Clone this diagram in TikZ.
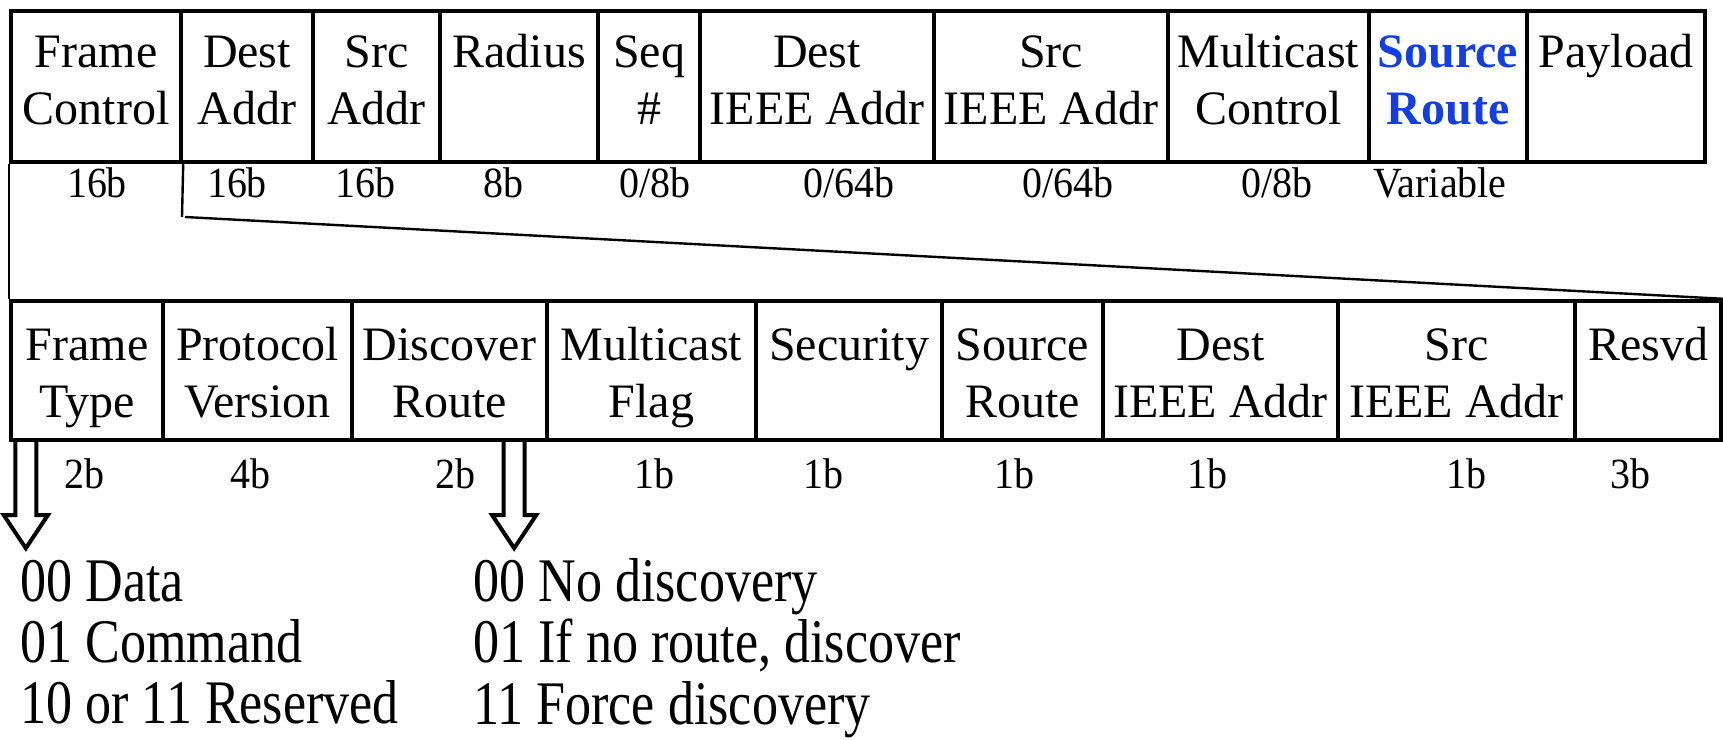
\documentclass[tikz,border=0pt]{standalone}
\usepackage{fontspec}
\setmainfont{Liberation Serif}
\newfontfamily\bitsfont[FakeStretch=0.93]{Liberation Serif}
\newfontfamily\notefont[FakeStretch=0.84]{Liberation Serif}
\usetikzlibrary{fit}
\definecolor{routeblue}{RGB}{18,62,228}

% centred / left-aligned multi-line cell contents, baseline on the first line
\newcommand\fieldstack[1]{\begin{tabular}[t]{@{}c@{}}#1\end{tabular}}
\newcommand\notestack[1]{\begin{tabular}[t]{@{}l@{}}#1\end{tabular}}

\tikzset{
  fieldbox/.style={draw, line width=2.2pt, inner sep=0pt},
  fieldtext/.style={inner sep=0pt, anchor=base, font=\fontsize{24}{28.5}\selectfont},
  bits/.style={inner sep=0pt, anchor=base, font=\bitsfont\fontsize{21.5}{24}\selectfont},
  note/.style={inner sep=0pt, anchor=base west, font=\notefont\fontsize{31}{30.5}\selectfont},
  link/.style={line width=1.2pt},
  hollow/.style={draw, line width=2pt, fill=white, line join=miter},
}

% one header field: name, left, right, top, bottom, text, first-baseline drop
\newcommand\rowfield[7]{%
  \node[fieldbox, fit={(#2,#4) (#3,#5)}] (#1) {};
  \node[fieldtext, yshift=-#7] (#1-t) at (#1.north) {\fieldstack{#6}};
}

% hollow down arrow hanging from a coordinate
\newcommand\hollowarrow[1]{%
  \draw[hollow] ([xshift=-5.25pt]#1) -- ++(0,73) -- ++(-11.5,0) -- ++(22,33)
    -- ++(22,-33) -- ++(-11.5,0) -- ++(0,-73);
}

\begin{document}
\begin{tikzpicture}[x=0.5pt,y=-0.5pt]
\useasboundingbox (0,0) rectangle (1723,739);

% NWK frame header
\rowfield{fc}{11}{181}{11}{162}{Frame\\Control}{29.5pt}
\rowfield{da}{181}{313}{11}{162}{Dest\\Addr}{29.5pt}
\rowfield{sa}{313}{440}{11}{162}{Src\\Addr}{29.5pt}
\rowfield{rad}{440}{598}{11}{162}{Radius}{29.5pt}
\rowfield{seq}{598}{700}{11}{162}{Seq\\\#}{29.5pt}
\rowfield{dieee}{700}{934}{11}{162}{Dest\\IEEE Addr}{29.5pt}
\rowfield{sieee}{934}{1168}{11}{162}{Src\\IEEE Addr}{29.5pt}
\rowfield{mc}{1168}{1369}{11}{162}{Multicast\\Control}{29.5pt}
\rowfield{sr}{1369}{1527}{11}{162}{\color{routeblue}\bfseries Source\\\color{routeblue}\bfseries Route}{29.5pt}
\rowfield{pl}{1527}{1705}{11}{162}{Payload}{29.5pt}

% field sizes
\node[bits] (fc-b) at (97,197) {16b};
\node[bits] (da-b) at (237,197) {16b};
\node[bits] (sa-b) at (365,197) {16b};
\node[bits] (rad-b) at (503,197) {8b};
\node[bits] (seq-b) at (655,197) {0/8b};
\node[bits] (dieee-b) at (849,197) {0/64b};
\node[bits] (sieee-b) at (1068,197) {0/64b};
\node[bits] (mc-b) at (1277,197) {0/8b};
\node[bits] (sr-b) at (1440,197) {Variable};

% frame control sub-fields
\rowfield{ft}{11}{163}{301}{440}{Frame\\Type}{31pt}
\rowfield{pv}{163}{352}{301}{440}{Protocol\\Version}{31pt}
\rowfield{dr}{352}{547}{301}{440}{Discover\\Route}{31pt}
\rowfield{mf}{547}{756}{301}{440}{Multicast\\Flag}{31pt}
\rowfield{sec}{756}{942}{301}{440}{Security}{31pt}
\rowfield{srt}{942}{1103}{301}{440}{Source\\Route}{31pt}
\rowfield{dia}{1103}{1338}{301}{440}{Dest\\IEEE Addr}{31pt}
\rowfield{sia}{1338}{1575}{301}{440}{Src\\IEEE Addr}{31pt}
\rowfield{res}{1575}{1721}{301}{440}{Resvd}{31pt}

\node[bits] (ft-b) at (84,488) {2b};
\node[bits] (pv-b) at (250,488) {4b};
\node[bits] (dr-b) at (455,488) {2b};
\node[bits] (mf-b) at (654,488) {1b};
\node[bits] (sec-b) at (823,488) {1b};
\node[bits] (srt-b) at (1014,488) {1b};
\node[bits] (dia-b) at (1207,488) {1b};
\node[bits] (sia-b) at (1466,488) {1b};
\node[bits] (res-b) at (1630,488) {3b};

% expansion lines from the frame control field
\coordinate (fcdrop) at (182,217);
\coordinate (fcslant) at (185,217);
\draw[link] (fc.south west) -- (ft.north west);
\draw[link] (fc.south east) -- (fcdrop);
\draw[link] (fcslant) -- (res.north east);

% value tables
\coordinate (ftarrow) at ([xshift=8.5pt]ft.south west);
\coordinate (drarrow) at ([xshift=-17.5pt]dr.south east);
\hollowarrow{ftarrow}
\hollowarrow{drarrow}

\node[note] (ftvals) at (20,601) {\notestack{00 Data\\01 Command\\10 or 11 Reserved}};
\node[note] (drvals) at (473,601) {\notestack{00 No discovery\\01 If no route, discover\\11 Force discovery}};
\end{tikzpicture}
\end{document}
